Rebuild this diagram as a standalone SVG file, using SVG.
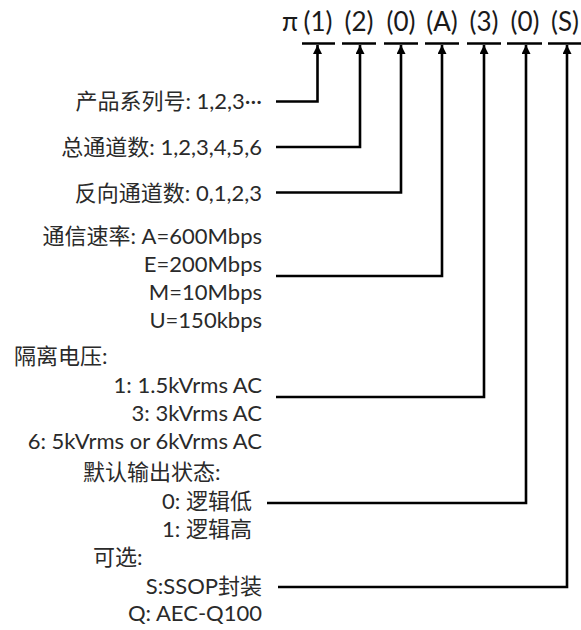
<svg xmlns="http://www.w3.org/2000/svg" width="581" height="630" viewBox="0 0 581 630">
<style>
  .t { font-family: Lato, "Noto Sans CJK SC", sans-serif; font-size: 22px; fill: #2a2a2a; }
  .r { text-anchor: end; }
  .h { font-family: Lato, "Noto Sans CJK SC", sans-serif; font-size: 26px; fill: #1a1a1a; text-anchor: middle; }
  .ul { stroke: #000; stroke-width: 2.6; }
  .c { fill: none; stroke: #000; stroke-width: 2.6; marker-end: url(#arr); }
</style>
<defs>
  <marker id="arr" markerUnits="userSpaceOnUse" markerWidth="10" markerHeight="10" refX="9" refY="4.5" orient="auto">
    <path d="M0,0 L9,4.5 L0,9 z" fill="#000"/>
  </marker>
</defs>
<rect width="581" height="630" fill="#fff"/>
<g id="code">
  <text class="h" x="290" y="31">π</text>
  <text class="h" x="318" y="31">(1)</text>
  <text class="h" x="359" y="31">(2)</text>
  <text class="h" x="401" y="31">(0)</text>
  <text class="h" x="442" y="31">(A)</text>
  <text class="h" x="484" y="31">(3)</text>
  <text class="h" x="525" y="31">(0)</text>
  <text class="h" x="565" y="31">(S)</text>
  <line class="ul" x1="302" y1="43.5" x2="335" y2="43.5"/>
  <line class="ul" x1="342" y1="43.5" x2="376" y2="43.5"/>
  <line class="ul" x1="384" y1="43.5" x2="418" y2="43.5"/>
  <line class="ul" x1="425" y1="43.5" x2="459" y2="43.5"/>
  <line class="ul" x1="467" y1="43.5" x2="501" y2="43.5"/>
  <line class="ul" x1="507" y1="43.5" x2="542" y2="43.5"/>
  <line class="ul" x1="548" y1="43.5" x2="581" y2="43.5"/>
</g>
<g id="series"><text class="t r" x="262" y="109">产品系列号: 1,2,3···</text></g>
<g id="channels"><text class="t r" x="262" y="155">总通道数: 1,2,3,4,5,6</text></g>
<g id="reverse"><text class="t r" x="262" y="201">反向通道数: 0,1,2,3</text></g>
<g id="rate">
  <text class="t r" x="262" y="244">通信速率: A=600Mbps</text>
  <text class="t r" x="262" y="272">E=200Mbps</text>
  <text class="t r" x="262" y="300">M=10Mbps</text>
  <text class="t r" x="262" y="328">U=150kbps</text>
</g>
<g id="isolation">
  <text class="t" x="14" y="364">隔离电压:</text>
  <text class="t r" x="262" y="393">1: 1.5kVrms AC</text>
  <text class="t r" x="262" y="421">3: 3kVrms AC</text>
  <text class="t r" x="262" y="449">6: 5kVrms or 6kVrms AC</text>
</g>
<g id="default">
  <text class="t" x="83" y="480">默认输出状态:</text>
  <text class="t r" x="252" y="509">0: 逻辑低</text>
  <text class="t r" x="252" y="537">1: 逻辑高</text>
</g>
<g id="option">
  <text class="t" x="93" y="565">可选:</text>
  <text class="t r" x="262" y="594">S:SSOP封装</text>
  <text class="t r" x="262" y="621">Q: AEC-Q100</text>
</g>
<g id="connectors">
  <polyline class="c" points="276,101.5 317.5,101.5 317.5,45"/>
  <polyline class="c" points="276,147 360,147 360,45"/>
  <polyline class="c" points="276,192.5 401,192.5 401,45"/>
  <polyline class="c" points="276,276 442,276 442,45"/>
  <polyline class="c" points="276,397 484,397 484,45"/>
  <polyline class="c" points="267,503 526,503 526,45"/>
  <polyline class="c" points="278,587 567,587 567,45"/>
</g>
</svg>
